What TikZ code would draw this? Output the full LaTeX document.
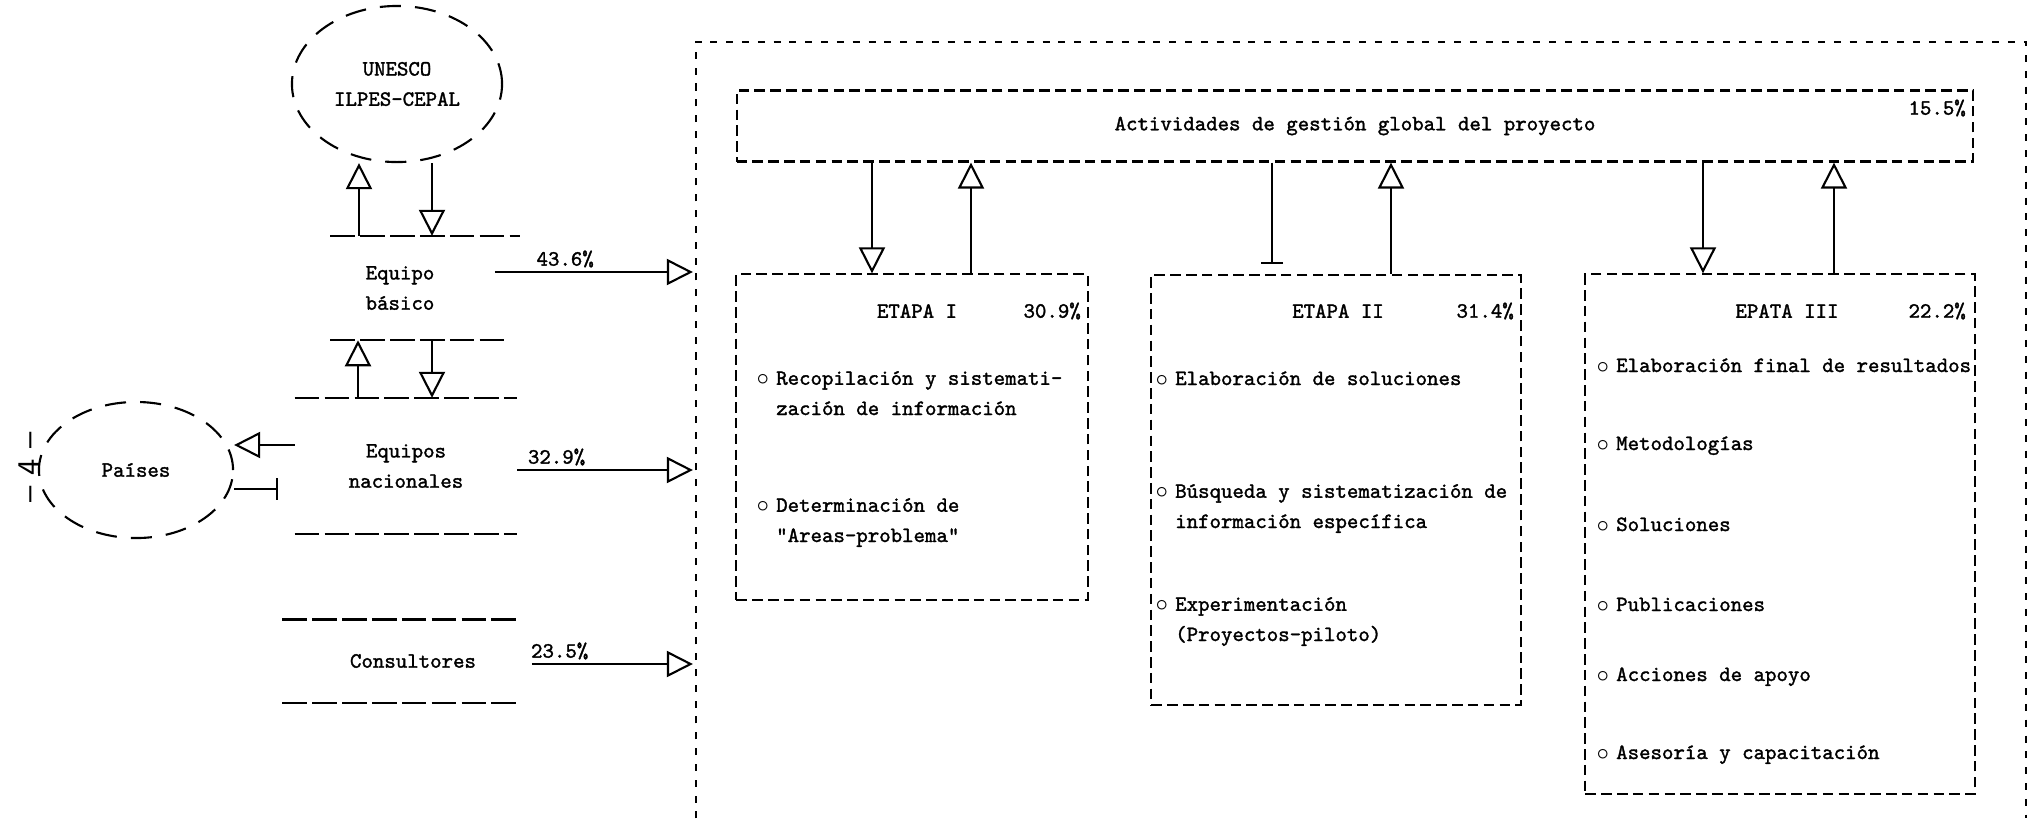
\documentclass[tikz,border=0pt]{standalone}
\usepackage{fontspec}
\usetikzlibrary{arrows.meta,shapes.geometric}
\newfontfamily\maquina{lmmono10-regular}[Extension=.otf,FakeBold=1.5]
\newcommand{\vineta}{\makebox[0.2cm][l]{$\circ$}}
\newcommand{\sangria}{\hspace*{0.2cm}}
\tikzset{
  texto/.style={font=\maquina\fontsize{6.2}{8.6}\selectfont, inner sep=1pt},
  nube/.style={ellipse, draw, align=center, line width=0.6pt, dash pattern=on 6pt off 4pt},
  franja/.style={inner sep=0pt, align=center},
  caja/.style={draw, line width=0.6pt, dash pattern=on 3pt off 1.5pt, inner sep=0pt},
  raya/.style={line width=0.7pt, dash pattern=on 7pt off 1.5pt},
  borde/.style={line width=0.6pt, dash pattern=on 2pt off 2.5pt},
  flecha/.style={line width=0.6pt, -{Triangle[open,length=0.26cm,width=0.26cm]}},
  tope/.style={line width=0.6pt, -{Bar[width=0.22cm]}},
  punto/.style={anchor=base west, align=left}
}

\begin{document}
\begin{tikzpicture}[x=0.01cm, y=-0.01cm, every node/.append style={texto}]
  \useasboundingbox (0,0) rectangle (2035,829);
  \node[rotate=90, font=\sffamily\fontsize{9}{9}\selectfont] (pag) at (29,467) {-- 4 --};

  % columna izquierda
  \node[nube, minimum width=2.1cm, minimum height=1.56cm] (unesco) at (397,84) {UNESCO\\ILPES-CEPAL};
  \node[franja, minimum width=1.88cm, minimum height=1.03cm] (basico) at (400,288) {Equipo\\básico};
  \node[franja, minimum width=2.21cm, minimum height=1.35cm] (nacionales) at (406,466) {Equipos\\nacionales};
  \node[franja, minimum width=2.36cm, minimum height=0.82cm] (consultores) at (413,661) {Consultores};
  \node[nube, minimum width=1.94cm, minimum height=1.36cm] (paises) at (136,470) {Países};
  \draw[raya] ([xshift=0.25cm]basico.north west) -- ([xshift=0.25cm]basico.north east);
  \draw[raya] ([xshift=0.25cm]basico.south west) -- ([xshift=0.12cm]basico.south east);
  \draw[raya] (nacionales.north west) -- (nacionales.north east);
  \draw[raya] (nacionales.south west) -- (nacionales.south east);
  \draw[raya] ([xshift=-0.12cm]consultores.north west) -- ([xshift=-0.12cm]consultores.north east);
  \draw[raya] ([xshift=-0.12cm]consultores.south west) -- ([xshift=-0.12cm]consultores.south east);

  \draw[flecha] (unesco.south -| 432,0) -- (basico.north -| 432,0);
  \draw[flecha] (basico.north -| 359,0) -- (unesco.south -| 359,0);
  \draw[flecha] (basico.south -| 432,0) -- (nacionales.north -| 432,0);
  \draw[flecha] (nacionales.north -| 358,0) -- (basico.south -| 358,0);
  \draw[flecha] (nacionales.west |- 0,445) -- (paises.east |- 0,445);
  \draw[tope, shorten >=0.17cm] (paises.east |- 0,489) -- (nacionales.west |- 0,489);

  % marco del proyecto
  \node[minimum width=13.28cm, minimum height=7.75cm, inner sep=0pt] (marco) at (1361,430) {};
  \draw[borde] (marco.south west) -- (marco.north west) -- (marco.north east) -- (marco.south east);

  \draw[flecha, shorten >=0.03cm] (basico.east |- 0,272) -- (marco.west |- 0,272) node[pos=0.35, above] (p1) {43.6\%};
  \draw[flecha, shorten >=0.03cm] (nacionales.east |- 0,470) -- (marco.west |- 0,470) node[pos=0.22, above] (p2) {32.9\%};
  \draw[flecha, shorten >=0.03cm] (consultores.east |- 0,664) -- (marco.west |- 0,664) node[pos=0.17, above] (p3) {23.5\%};

  % gestion y etapas
  \node[caja, minimum width=12.36cm, minimum height=0.71cm] (gestion) at (1355,126) {Actividades de gestión global del proyecto};
  \node[anchor=east] (p0) at (1970,108) {15.5\%};

  \node[caja, minimum width=3.51cm, minimum height=3.25cm] (etapaI) at (912,437) {};
  \node[caja, minimum width=3.69cm, minimum height=4.30cm] (etapaII) at (1336,490) {};
  \node[caja, minimum width=3.89cm, minimum height=5.19cm] (etapaIII) at (1780,534) {};

  \draw[flecha] (gestion.south -| 872,0) -- (etapaI.north -| 872,0);
  \draw[flecha] (etapaI.north -| 971,0) -- (gestion.south -| 971,0);
  \draw[tope, shorten >=0.1cm] (gestion.south -| 1272,0) -- (etapaII.north -| 1272,0);
  \draw[flecha] (etapaII.north -| 1391,0) -- (gestion.south -| 1391,0);
  \draw[flecha] (gestion.south -| 1703,0) -- (etapaIII.north -| 1703,0);
  \draw[flecha] (etapaIII.north -| 1834,0) -- (gestion.south -| 1834,0);

  \node (t1) at (917,311) {ETAPA I};
  \node[anchor=east] (q1) at (1085,311) {30.9\%};
  \node[punto] (a1) at (752,415) {\vineta Recopilación y sistemati-\\\sangria zación de información};
  \node[punto] (a2) at (752,542) {\vineta Determinación de\\\sangria "Areas-problema"};

  \node (t2) at (1338,311) {ETAPA II};
  \node[anchor=east] (q2) at (1518,311) {31.4\%};
  \node[punto] (b1) at (1151,385) {\vineta Elaboración de soluciones};
  \node[punto] (b2) at (1151,528) {\vineta Búsqueda y sistematización de\\\sangria información específica};
  \node[punto] (b3) at (1151,641) {\vineta Experimentación\\\sangria (Proyectos-piloto)};

  \node (t3) at (1787,311) {EPATA III};
  \node[anchor=east] (q3) at (1970,311) {22.2\%};
  \node[punto] (c1) at (1592,372) {\vineta Elaboración final de resultados};
  \node[punto] (c2) at (1592,450) {\vineta Metodologías};
  \node[punto] (c3) at (1592,531) {\vineta Soluciones};
  \node[punto] (c4) at (1592,611) {\vineta Publicaciones};
  \node[punto] (c5) at (1592,681) {\vineta Acciones de apoyo};
  \node[punto] (c6) at (1592,759) {\vineta Asesoría y capacitación};
\end{tikzpicture}
\end{document}
